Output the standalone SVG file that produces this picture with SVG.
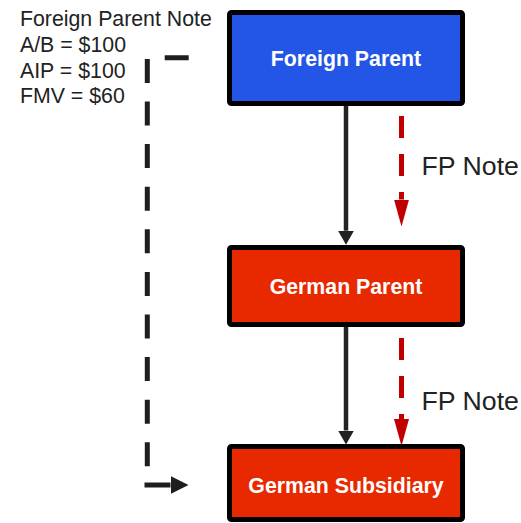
<svg xmlns="http://www.w3.org/2000/svg" width="521" height="523" viewBox="0 0 521 523">
<style>
.box{stroke:#000;stroke-width:5}
.lbl{font-family:"Liberation Sans",Arial,sans-serif;font-weight:bold;font-size:21.3px;fill:#fff;text-anchor:middle}
.note{font-family:"Liberation Sans",Arial,sans-serif;font-size:21.3px;fill:#222}
.fp{font-family:"Liberation Sans",Arial,sans-serif;font-size:26.7px;fill:#222}
.solid{stroke:#222;stroke-width:4.5;fill:none}
.red{stroke:#c00000;stroke-width:5;fill:none;stroke-dasharray:22 16}
.dash{stroke:#1e1e1e;stroke-width:5;fill:none}
</style>
<defs>
<marker id="blk" markerUnits="userSpaceOnUse" markerWidth="14" markerHeight="16" refX="0" refY="8" orient="auto" viewBox="0 0 14 16"><path d="M0,0 L14,8 L0,16 z" fill="#222"/></marker>
<marker id="redh" markerUnits="userSpaceOnUse" markerWidth="27" markerHeight="15" refX="0" refY="7.5" orient="auto" viewBox="0 0 27 15"><path d="M0,0 L27,7.5 L0,15 z" fill="#c00000"/></marker>
<marker id="blk2" markerUnits="userSpaceOnUse" markerWidth="18" markerHeight="18" refX="0" refY="9" orient="auto" viewBox="0 0 18 18"><path d="M0,0 L18,9 L0,18 z" fill="#1e1e1e"/></marker>
</defs>
<g id="note-text">
<text class="note" x="20" y="26">Foreign Parent Note</text>
<text class="note" x="20" y="51.7">A/B = $100</text>
<text class="note" x="20" y="77.5">AIP = $100</text>
<text class="note" x="20" y="103.3">FMV = $60</text>
</g>
<g id="connectors">
<path class="solid" d="M346,106 V230.7" marker-end="url(#blk)"/>
<path class="solid" d="M346,327 V430.5" marker-end="url(#blk)"/>
<path class="red" d="M401.5,116 V199.5" marker-end="url(#redh)"/>
<path class="red" d="M401.5,338 V419" marker-end="url(#redh)"/>
<path class="dash" d="M188.7,57.7 H147.3 V466.5" stroke-dasharray="24 18.6"/>
<path class="dash" d="M144.5,485 H170.5" marker-end="url(#blk2)"/>
</g>
<g id="fp-note-labels">
<text class="fp" x="421.5" y="175">FP Note</text>
<text class="fp" x="421.5" y="410">FP Note</text>
</g>
<g id="foreign-parent">
<rect class="box" x="229.5" y="12.5" width="233" height="91" rx="2" fill="#2355e6"/>
<text class="lbl" x="346" y="66">Foreign Parent</text>
</g>
<g id="german-parent">
<rect class="box" x="229.5" y="247.5" width="233" height="77" rx="2" fill="#e82900"/>
<text class="lbl" x="346" y="293.5">German Parent</text>
</g>
<g id="german-subsidiary">
<rect class="box" x="229.5" y="446.5" width="233" height="73" rx="2" fill="#e82900"/>
<text class="lbl" x="346" y="493">German Subsidiary</text>
</g>
</svg>
